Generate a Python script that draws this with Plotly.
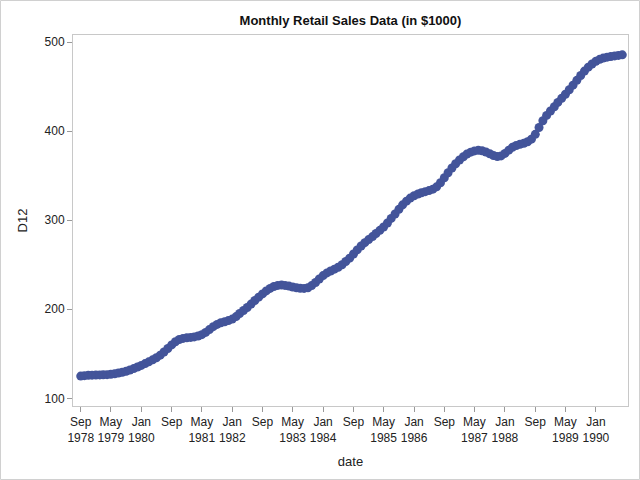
import plotly.graph_objects as go
import pandas as pd

# Monthly dates Sep 1978 .. Aug 1990
dates = pd.date_range("1978-09-01", periods=144, freq="MS")

d12 = [
    125.0, 125.5, 125.8, 126.0,                      # Sep-Dec 1978
    126.2, 126.3, 126.4, 126.6, 127.0, 127.6, 128.4, 129.3, 130.4, 131.8, 133.4, 135.2,  # 1979
    137.0, 139.0, 141.0, 143.2, 145.6, 148.5, 152.0, 156.0, 160.0, 163.5, 166.0, 167.3,  # 1980
    168.0, 168.4, 169.0, 170.0, 171.5, 174.0, 177.2, 180.5, 183.0, 184.8, 186.0, 187.3,  # 1981
    189.0, 191.8, 195.2, 198.6, 202.0, 205.8, 209.8, 213.6, 217.2, 220.6, 223.4, 225.6,  # 1982
    226.8, 227.2, 226.8, 226.0, 225.0, 224.2, 223.6, 223.4, 224.2, 226.6, 230.0, 234.0,  # 1983
    237.8, 240.8, 243.0, 245.0, 247.2, 250.0, 253.6, 257.4, 262.0, 266.6, 271.0, 274.8,  # 1984
    278.2, 281.6, 285.0, 288.6, 292.4, 296.8, 302.0, 307.0, 312.2, 317.2, 321.4, 324.8,  # 1985
    327.4, 329.4, 330.8, 332.0, 333.2, 334.8, 337.4, 342.0, 347.6, 353.2, 358.6, 363.4,  # 1986
    367.6, 371.2, 374.2, 376.4, 377.8, 378.4, 378.0, 376.6, 374.6, 372.6, 371.4, 372.2,  # 1987
    375.0, 378.6, 381.8, 383.8, 385.2, 386.4, 388.0, 391.0, 396.4, 404.0, 411.6, 417.6,  # 1988
    422.6, 427.4, 432.2, 436.8, 441.4, 446.4, 451.6, 457.0, 462.4, 467.4, 471.8, 475.4,  # 1989
    478.4, 480.6, 482.0, 483.0, 483.8, 484.4, 485.0, 485.6,                              # Jan-Aug 1990
]

tick_dates = ["1978-09-01", "1979-05-01", "1980-01-01", "1980-09-01", "1981-05-01",
              "1982-01-01", "1982-09-01", "1983-05-01", "1984-01-01", "1984-09-01",
              "1985-05-01", "1986-01-01", "1986-09-01", "1987-05-01", "1988-01-01",
              "1988-09-01", "1989-05-01", "1990-01-01"]
tick_labels = ["Sep<br>1978", "May<br>1979", "Jan<br>1980", "Sep", "May<br>1981",
               "Jan<br>1982", "Sep", "May<br>1983", "Jan<br>1984", "Sep",
               "May<br>1985", "Jan<br>1986", "Sep", "May<br>1987", "Jan<br>1988",
               "Sep", "May<br>1989", "Jan<br>1990"]
y_ticks = [100, 200, 300, 400, 500]

FONT = "Liberation Sans, Arial, sans-serif"
BLUE = "#43549a"

fig = go.Figure()
fig.add_trace(go.Scatter(
    x=dates, y=d12, mode="markers",
    marker=dict(color=BLUE, size=9, line=dict(width=0)),
    showlegend=False,
))

L, R, T, B = 73, 12, 35, 74
W, H = 640, 480
pw, ph = W - L - R, H - T - B

fig.update_layout(
    width=W, height=H,
    margin=dict(l=L, r=R, t=T, b=B, pad=0),
    paper_bgcolor="white", plot_bgcolor="white",
    font=dict(family=FONT, size=12, color="#222"),
    title=dict(text="<b>Monthly Retail Sales Data (in $1000)</b>",
               x=(L + pw / 2) / W, xanchor="center", y=1 - 20 / H, yanchor="middle",
               font=dict(family=FONT, size=13, color="#111")),
    xaxis=dict(
        range=["1978-07-01", "1990-09-16"],
        tickmode="array", tickvals=tick_dates, ticktext=tick_labels,
        ticks="outside", ticklen=5, tickcolor="#999", tickwidth=1,
        showgrid=False, zeroline=False,
        showline=True, linecolor="#c8c8c8", linewidth=1, mirror=True,
        tickfont=dict(size=12, color="#222"),
        title=dict(text="date", font=dict(size=13, color="#222"), standoff=12),
    ),
    yaxis=dict(
        range=[91.4, 507.9],
        tickmode="array", tickvals=y_ticks,
        ticks="outside", ticklen=5, tickcolor="#999", tickwidth=1,
        showgrid=False, zeroline=False,
        showline=True, linecolor="#c8c8c8", linewidth=1, mirror=True,
        tickfont=dict(size=12, color="#222"),
        title=dict(text="D12", font=dict(size=13, color="#222"), standoff=14),
    ),
)

# Outer light-gray frame around the whole graphic
fig.add_shape(type="rect", xref="paper", yref="paper",
              x0=(0.5 - L) / pw, x1=(W - 0.5 - L) / pw,
              y0=(H - B - (H - 0.5)) / ph, y1=(H - B - 0.5) / ph,
              line=dict(color="#d0d0d0", width=1), fillcolor="rgba(0,0,0,0)", layer="below")

fig.write_html("out.html",
               config={"displayModeBar": False},
               post_script="document.body.style.margin='0';document.body.style.overflow='hidden';")
